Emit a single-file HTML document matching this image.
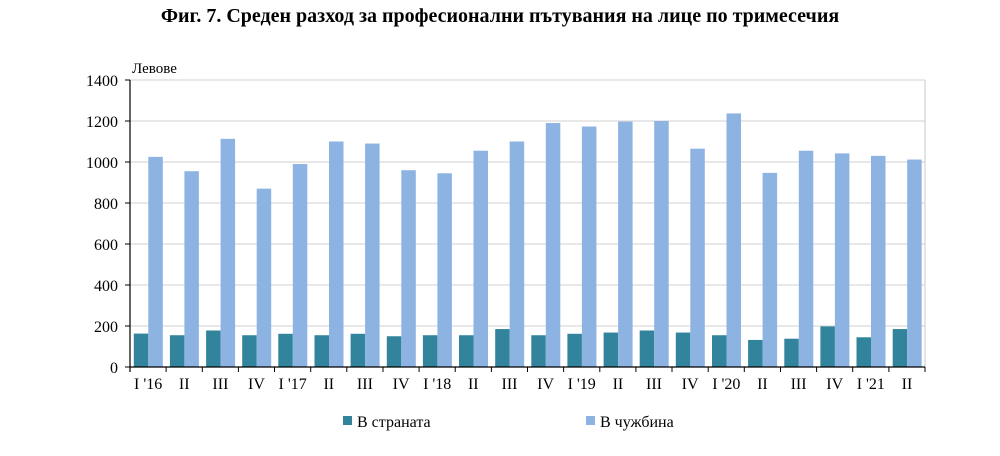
<!DOCTYPE html>
<html><head><meta charset="utf-8"><style>
body{margin:0;background:#fff;}
svg text{font-family:"Liberation Serif",serif;}
</style></head><body>
<svg width="1000" height="451" xmlns="http://www.w3.org/2000/svg">
<text x="500" y="22" text-anchor="middle" font-size="20" font-weight="bold">Фиг. 7. Среден разход за професионални пътувания на лице по тримесечия</text>
<text x="132" y="73" font-size="15">Левове</text>
<g stroke="#d0d0d0">
<line x1="130" x2="925" y1="326" y2="326"/><line x1="130" x2="925" y1="285" y2="285"/>
<line x1="130" x2="925" y1="244" y2="244"/><line x1="130" x2="925" y1="203" y2="203"/>
<line x1="130" x2="925" y1="162" y2="162"/><line x1="130" x2="925" y1="121" y2="121"/>
<line x1="130" x2="925" y1="80" y2="80"/>
</g>
<g font-size="16" text-anchor="end">
<text x="118" y="373">0</text><text x="118" y="332">200</text><text x="118" y="291">400</text>
<text x="118" y="250">600</text><text x="118" y="209">800</text><text x="118" y="168">1000</text>
<text x="118" y="127">1200</text><text x="118" y="86">1400</text>
</g>
<g stroke="#000">
<line x1="125" x2="130" y1="367" y2="367"/><line x1="125" x2="130" y1="326" y2="326"/>
<line x1="125" x2="130" y1="285" y2="285"/><line x1="125" x2="130" y1="244" y2="244"/>
<line x1="125" x2="130" y1="203" y2="203"/><line x1="125" x2="130" y1="162" y2="162"/>
<line x1="125" x2="130" y1="121" y2="121"/><line x1="125" x2="130" y1="80" y2="80"/>
</g>
<g transform="translate(0,367) scale(1,-0.205)">
<g fill="#31849b">
<rect x="133.8" width="14.5" height="163"/><rect x="169.9" width="14.5" height="155"/>
<rect x="206.1" width="14.5" height="178"/><rect x="242.2" width="14.5" height="155"/>
<rect x="278.3" width="14.5" height="162"/><rect x="314.5" width="14.5" height="155"/>
<rect x="350.6" width="14.5" height="162"/><rect x="386.8" width="14.5" height="150"/>
<rect x="422.9" width="14.5" height="155"/><rect x="459.0" width="14.5" height="155"/>
<rect x="495.2" width="14.5" height="185"/><rect x="531.3" width="14.5" height="155"/>
<rect x="567.4" width="14.5" height="162"/><rect x="603.6" width="14.5" height="168"/>
<rect x="639.7" width="14.5" height="178"/><rect x="675.8" width="14.5" height="168"/>
<rect x="712.0" width="14.5" height="155"/><rect x="748.1" width="14.5" height="132"/>
<rect x="784.3" width="14.5" height="138"/><rect x="820.4" width="14.5" height="198"/>
<rect x="856.5" width="14.5" height="145"/><rect x="892.7" width="14.5" height="185"/>
</g>
<g fill="#8db3e2">
<rect x="148.3" width="14.5" height="1025"/><rect x="184.4" width="14.5" height="955"/>
<rect x="220.6" width="14.5" height="1113"/><rect x="256.7" width="14.5" height="870"/>
<rect x="292.8" width="14.5" height="990"/><rect x="329.0" width="14.5" height="1100"/>
<rect x="365.1" width="14.5" height="1090"/><rect x="401.3" width="14.5" height="960"/>
<rect x="437.4" width="14.5" height="945"/><rect x="473.5" width="14.5" height="1055"/>
<rect x="509.7" width="14.5" height="1100"/><rect x="545.8" width="14.5" height="1190"/>
<rect x="581.9" width="14.5" height="1173"/><rect x="618.1" width="14.5" height="1197"/>
<rect x="654.2" width="14.5" height="1200"/><rect x="690.3" width="14.5" height="1065"/>
<rect x="726.5" width="14.5" height="1237"/><rect x="762.6" width="14.5" height="947"/>
<rect x="798.8" width="14.5" height="1055"/><rect x="834.9" width="14.5" height="1042"/>
<rect x="871.0" width="14.5" height="1030"/><rect x="907.2" width="14.5" height="1012"/>
</g>
</g>
<line x1="925" y1="80" x2="925" y2="367" stroke="#c8c8c8"/>
<line x1="130" y1="80" x2="130" y2="372" stroke="#000" stroke-width="1.2"/>
<line x1="130" y1="367" x2="925" y2="367" stroke="#000" stroke-width="1.2"/>
<g stroke="#000">
<line x1="166.1" x2="166.1" y1="367" y2="372"/><line x1="202.3" x2="202.3" y1="367" y2="372"/>
<line x1="238.4" x2="238.4" y1="367" y2="372"/><line x1="274.5" x2="274.5" y1="367" y2="372"/>
<line x1="310.7" x2="310.7" y1="367" y2="372"/><line x1="346.8" x2="346.8" y1="367" y2="372"/>
<line x1="383.0" x2="383.0" y1="367" y2="372"/><line x1="419.1" x2="419.1" y1="367" y2="372"/>
<line x1="455.2" x2="455.2" y1="367" y2="372"/><line x1="491.4" x2="491.4" y1="367" y2="372"/>
<line x1="527.5" x2="527.5" y1="367" y2="372"/><line x1="563.6" x2="563.6" y1="367" y2="372"/>
<line x1="599.8" x2="599.8" y1="367" y2="372"/><line x1="635.9" x2="635.9" y1="367" y2="372"/>
<line x1="672.0" x2="672.0" y1="367" y2="372"/><line x1="708.2" x2="708.2" y1="367" y2="372"/>
<line x1="744.3" x2="744.3" y1="367" y2="372"/><line x1="780.5" x2="780.5" y1="367" y2="372"/>
<line x1="816.6" x2="816.6" y1="367" y2="372"/><line x1="852.7" x2="852.7" y1="367" y2="372"/>
<line x1="888.9" x2="888.9" y1="367" y2="372"/><line x1="925" x2="925" y1="367" y2="372"/>
</g>
<g font-size="16" text-anchor="middle">
<text x="148.1" y="389">I '16</text><text x="184.2" y="389">II</text><text x="220.4" y="389">III</text>
<text x="256.5" y="389">IV</text><text x="292.6" y="389">I '17</text><text x="328.8" y="389">II</text>
<text x="364.9" y="389">III</text><text x="401.1" y="389">IV</text><text x="437.2" y="389">I '18</text>
<text x="473.3" y="389">II</text><text x="509.5" y="389">III</text><text x="545.6" y="389">IV</text>
<text x="581.7" y="389">I '19</text><text x="617.9" y="389">II</text><text x="654.0" y="389">III</text>
<text x="690.1" y="389">IV</text><text x="726.3" y="389">I '20</text><text x="762.4" y="389">II</text>
<text x="798.6" y="389">III</text><text x="834.7" y="389">IV</text><text x="870.8" y="389">I '21</text>
<text x="907.0" y="389">II</text>
</g>
<rect x="343" y="416" width="9" height="9" fill="#31849b"/>
<text x="357" y="427" font-size="16">В страната</text>
<rect x="586" y="416" width="9" height="9" fill="#8db3e2"/>
<text x="600" y="427" font-size="16">В чужбина</text>
</svg>
</body></html>
